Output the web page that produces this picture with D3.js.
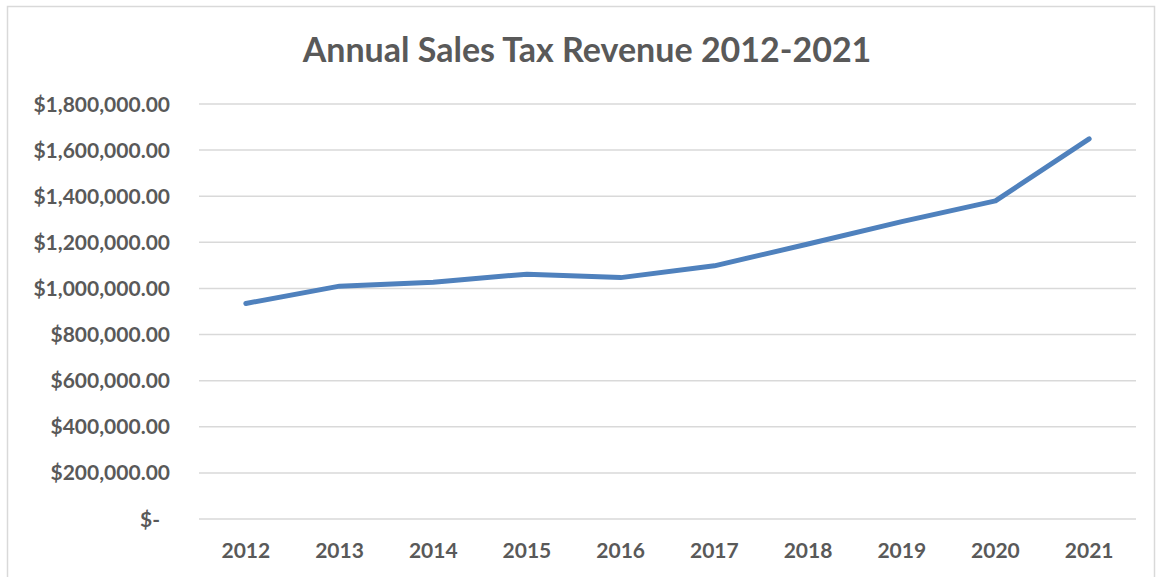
<!doctype html>
<html lang="en">
<head>
  <meta charset="utf-8">
  <title>Annual Sales Tax Revenue</title>
  <style>
    body { margin: 0; background: #fff; }
    text { font-family: Lato, "Open Sans", sans-serif; font-weight: bold; fill: #595959; }
    .grid line { stroke: #d9d9d9; stroke-width: 1.5; }
    .frame { fill: none; stroke: #d9d9d9; stroke-width: 1.5; }
  </style>
</head>
<body>
  <div id="chart"></div>
  <script src="https://cdn.jsdelivr.net/npm/d3@7/dist/d3.min.js"></script>
  <script>
(function(){

  var years = ["2012", "2013", "2014", "2015", "2016", "2017", "2018", "2019", "2020", "2021"];
  var revenue = [935000, 1010000, 1027000, 1062000, 1047000, 1098000, 1193000, 1290000, 1380000, 1649000];
  var yTicks = [0, 200000, 400000, 600000, 800000, 1000000, 1200000, 1400000, 1600000, 1800000];

  var width = 1159, height = 577;
  var left = 199, right = 1136, top = 104, bottom = 519;

  var svg = d3.select("#chart").append("svg")
      .attr("width", width)
      .attr("height", height);

  svg.append("rect").attr("class", "frame")
      .attr("x", 7.5).attr("y", 6.5)
      .attr("width", 1147).attr("height", 580);

  var x = d3.scaleBand().domain(years).range([left, right]);
  var y = d3.scaleLinear().domain([0, 1800000]).range([bottom, top]);

  var fmt = d3.format(",.2f");
  function money(v) { return v === 0 ? "$-" : "$" + fmt(v); }

  svg.append("text")
      .attr("x", 587).attr("y", 62)
      .attr("text-anchor", "middle")
      .style("font-size", "34px")
      .text("Annual Sales Tax Revenue 2012-2021");

  svg.append("g").attr("class", "grid")
    .selectAll("line").data(yTicks).enter()
    .append("line")
      .attr("x1", left).attr("x2", right)
      .attr("y1", function(d) { return y(d); })
      .attr("y2", function(d) { return y(d); });

  svg.append("g").selectAll("text").data(yTicks).enter()
    .append("text")
      .attr("x", function(d) { return d === 0 ? 160 : 170; })
      .attr("y", function(d) { return y(d); })
      .attr("dy", "0.36em")
      .attr("text-anchor", "end")
      .style("font-size", "21px")
      .text(money);

  svg.append("g").selectAll("text").data(years).enter()
    .append("text")
      .attr("x", function(d) { return x(d) + x.bandwidth() / 2; })
      .attr("y", 558)
      .attr("text-anchor", "middle")
      .style("font-size", "21px")
      .text(function(d) { return d; });

  var line = d3.line()
      .x(function(d, i) { return x(years[i]) + x.bandwidth() / 2; })
      .y(function(d) { return y(d); });

  svg.append("path")
      .datum(revenue)
      .attr("d", line)
      .attr("fill", "none")
      .attr("stroke", "#4f81bd")
      .attr("stroke-width", 5)
      .attr("stroke-linecap", "round")
      .attr("stroke-linejoin", "round");

})();
  </script>
</body>
</html>
